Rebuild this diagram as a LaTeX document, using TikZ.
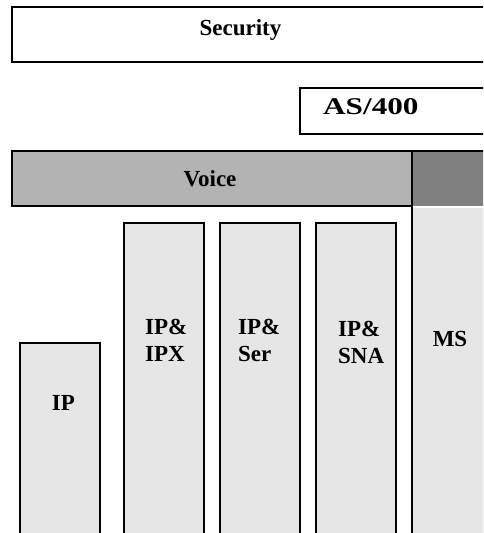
\documentclass[tikz,border=0pt]{standalone}
\usepackage{fontspec}
\setmainfont{Liberation Serif}
\usepackage{xcolor}
\usetikzlibrary{positioning}

\definecolor{voicegray}{HTML}{B3B3B3}
\definecolor{msdark}{HTML}{808080}
\definecolor{collight}{HTML}{E6E6E6}

\begin{document}
\begin{tikzpicture}
	[x=1pt,y=-1pt,
	box/.style={draw=black,line width=1.3pt},
	col/.style={draw=black,line width=1.3pt,fill=collight},
	lbl/.style={inner sep=0pt,font=\fontsize{23}{27}\selectfont\bfseries}]

	\useasboundingbox (0,0) rectangle (483,533);
	\clip (0,0) rectangle (483,533);

	% top layers
	\draw[box] (12,7) rectangle (495,62);
	\node[lbl,anchor=base] (security) at (240.5,35) {Security};

	\draw[box] (300,88) rectangle (495,134);
	\node[lbl,anchor=base west,font=\fontsize{24}{28}\selectfont\bfseries] (as400) at (323,114) {\scalebox{1.3}[1]{AS/400}};

	% voice band and MS column
	\fill[msdark] (412,151) rectangle (495,206);
	\fill[collight] (412,208) rectangle (495,540);
	\filldraw[box,fill=voicegray] (12,151) rectangle (412,206);
	\draw[line width=1.3pt] (412,151) -- (495,151);
	\draw[line width=1.3pt] (412,151) -- (412,540);
	\node[lbl] (voice) at (210,178.5) {Voice};
	\node[lbl,anchor=base] (ms) at (450,346) {MS};

	% protocol columns
	\filldraw[col] (20,343) rectangle (100,540);
	\filldraw[col] (124,223) rectangle (204,540);
	\filldraw[col] (220,223) rectangle (300,540);
	\filldraw[col] (316,223) rectangle (396,540);

	\node[lbl,anchor=base] (ip) at (63.4,410) {IP};
	\node[lbl,anchor=north west,align=left] (ipx) at (145,319) {IP\&\\IPX};
	\node[lbl,anchor=north west,align=left] (ser) at (238,319) {IP\&\\Ser};
	\node[lbl,anchor=north west,align=left] (sna) at (338,321) {IP\&\\SNA};

\end{tikzpicture}
\end{document}
